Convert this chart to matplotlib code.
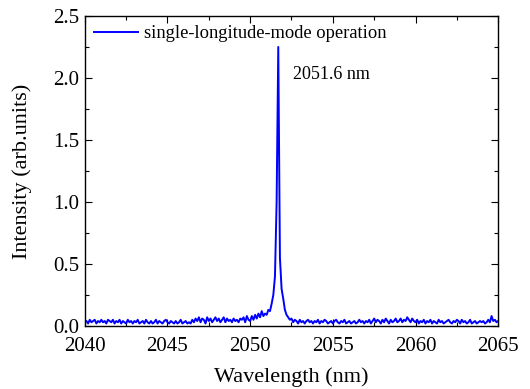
import numpy as np
import matplotlib
matplotlib.use("Agg")
import matplotlib.pyplot as plt
from matplotlib.ticker import MultipleLocator

# Wavelength grid (nm), 0.1 nm step
wl_start, wl_stop, wl_step = 2040.0, 2065.0, 0.1
intensity = [
    # 2040
    0.03, 0.04, 0.02, 0.05, 0.03, 0.04, 0.05, 0.02, 0.04, 0.03,
    # 2041
    0.05, 0.03, 0.04, 0.02, 0.05, 0.04, 0.03, 0.05, 0.02, 0.04,
    # 2042
    0.03, 0.05, 0.02, 0.04, 0.03, 0.02, 0.05, 0.03, 0.04, 0.02,
    # 2043
    0.04, 0.03, 0.05, 0.02, 0.03, 0.04, 0.02, 0.05, 0.03, 0.02,
    # 2044
    0.04, 0.02, 0.03, 0.05, 0.02, 0.04, 0.03, 0.02, 0.04, 0.05,
    # 2045
    0.03, 0.02, 0.04, 0.03, 0.02, 0.04, 0.02, 0.03, 0.05, 0.02,
    # 2046
    0.03, 0.04, 0.02, 0.03, 0.02, 0.05, 0.03, 0.06, 0.04, 0.07,
    # 2047
    0.03, 0.06, 0.05, 0.02, 0.07, 0.04, 0.06, 0.03, 0.05, 0.07,
    # 2048
    0.04, 0.06, 0.03, 0.05, 0.07, 0.03, 0.06, 0.04, 0.05, 0.03,
    # 2049
    0.06, 0.04, 0.05, 0.03, 0.06, 0.05, 0.07, 0.03, 0.08, 0.05,
    # 2050
    0.04, 0.08, 0.05, 0.09, 0.06, 0.10, 0.07, 0.12, 0.08, 0.10,
    # 2051
    0.09, 0.13, 0.12, 0.18, 0.25, 0.40, 1.00, 2.25, 0.55, 0.30,
    # 2052
    0.22, 0.13, 0.09, 0.07, 0.05, 0.06, 0.03, 0.05, 0.04, 0.02,
    # 2053
    0.05, 0.03, 0.04, 0.02, 0.04, 0.05, 0.03, 0.04, 0.02, 0.04,
    # 2054
    0.03, 0.05, 0.02, 0.04, 0.03, 0.05, 0.04, 0.02, 0.03, 0.04,
    # 2055
    0.02, 0.04, 0.05, 0.03, 0.02, 0.04, 0.03, 0.05, 0.02, 0.03,
    # 2056
    0.04, 0.02, 0.03, 0.04, 0.02, 0.03, 0.05, 0.03, 0.04, 0.02,
    # 2057
    0.04, 0.03, 0.05, 0.02, 0.04, 0.06, 0.03, 0.05, 0.04, 0.02,
    # 2058
    0.05, 0.03, 0.06, 0.04, 0.02, 0.05, 0.03, 0.04, 0.06, 0.03,
    # 2059
    0.04, 0.06, 0.03, 0.05, 0.04, 0.07, 0.05, 0.03, 0.06, 0.04,
    # 2060
    0.03, 0.05, 0.02, 0.04, 0.03, 0.05, 0.02, 0.04, 0.03, 0.05,
    # 2061
    0.02, 0.04, 0.03, 0.02, 0.05, 0.03, 0.04, 0.02, 0.03, 0.04,
    # 2062
    0.05, 0.03, 0.02, 0.04, 0.03, 0.05, 0.04, 0.02, 0.05, 0.03,
    # 2063
    0.04, 0.02, 0.03, 0.05, 0.02, 0.03, 0.04, 0.02, 0.03, 0.04,
    # 2064
    0.03, 0.04, 0.02, 0.03, 0.05, 0.03, 0.08, 0.04, 0.05, 0.03,
    # 2065
    0.04,
]
wavelength = wl_start + wl_step * np.arange(len(intensity))

legend_label = "single-longitude-mode operation"
peak_label = "2051.6 nm"
x_ticks = [2040, 2045, 2050, 2055, 2060, 2065]
y_ticks = [0.0, 0.5, 1.0, 1.5, 2.0, 2.5]

plt.rcParams['font.family'] = ['Liberation Serif', 'DejaVu Serif']

fig = plt.figure(figsize=(5.30, 3.89), dpi=100)
ax = fig.add_axes([0.160, 0.162, 0.780, 0.797])
ax.plot(wavelength, intensity, color='#0000ff', lw=1.4, label=legend_label)

ax.set_xlim(2040, 2065)
ax.set_ylim(0, 2.5)
ax.set_xticks(x_ticks)
ax.set_yticks(y_ticks)
ax.set_xticklabels([str(v) for v in x_ticks])
ax.set_yticklabels([f"{v:.1f}" for v in y_ticks])
ax.xaxis.set_minor_locator(MultipleLocator(2.5))
ax.yaxis.set_minor_locator(MultipleLocator(0.25))
ax.tick_params(which='both', direction='in', top=True, right=True,
               labelsize=15, width=0.8)
ax.tick_params(axis='x', which='major', pad=8)
ax.tick_params(axis='y', which='major', pad=4)
ax.tick_params(which='major', length=5)
ax.tick_params(which='minor', length=3)
for s in ax.spines.values():
    s.set_linewidth(1.0)

ax.set_xlabel("Wavelength (nm)", fontsize=16, labelpad=8)
ax.set_ylabel("Intensity (arb.units)", fontsize=16, labelpad=15)

ax.legend(loc='upper left', frameon=False, fontsize=13.3, handlelength=2.4,
          handletextpad=0.3, borderaxespad=0.3, borderpad=0.2)
ax.text(2052.6, 2.03, peak_label, fontsize=13, ha='left', va='center')

fig.savefig("out.png", dpi=100)
